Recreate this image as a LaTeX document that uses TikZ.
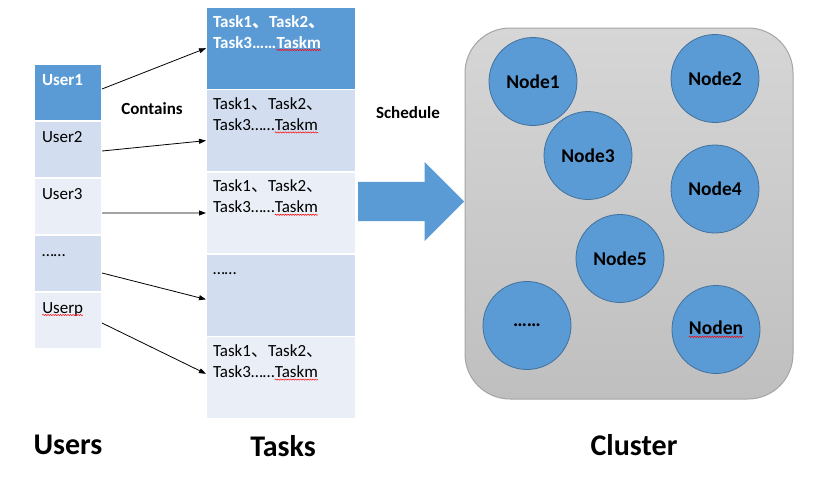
\documentclass[tikz,border=0pt]{standalone}
\usepackage{fontspec}
\setmainfont{Carlito}
\newfontfamily\cjk{Noto Sans CJK SC}
\usetikzlibrary{calc,positioning,arrows.meta,shapes.arrows,decorations.pathmorphing}
\definecolor{officeblue}{HTML}{5B9BD5}
\definecolor{officeline}{HTML}{41719C}
\definecolor{bandmid}{HTML}{D2DEEF}
\definecolor{bandlight}{HTML}{EAEFF7}
\definecolor{clustertop}{HTML}{D6D6D6}
\definecolor{clusterbot}{HTML}{BFBFBF}
\definecolor{clusterline}{HTML}{A5A5A5}
% red spell-check squiggle under a word
\newcommand\redwave[1]{\tikz[baseline=(rw.base)]{\node[shape=rectangle,inner sep=0pt,outer sep=0pt,minimum size=0pt,draw=none,fill=none,text width=,text height=,text depth=,align=none,anchor=center] (rw) {#1};
  \draw[red,line width=0.5pt,decorate,decoration={snake,amplitude=0.6pt,segment length=2.5pt}] ([yshift=-2pt]rw.base west) -- ([yshift=-2pt]rw.base east);}}
\newcommand\tasklist{Task1{\cjk 、}Task2{\cjk 、}\\Task3……\redwave{Taskm}}

\begin{document}
\begin{tikzpicture}[
  x=1pt,y=-1pt,
  user_cell/.style={rectangle,draw=white,line width=1.5pt,outer sep=0pt,anchor=north west,inner xsep=8pt,inner ysep=0pt,text width=52pt,text height=21pt,text depth=36pt,align=left,font=\fontsize{17}{21}\selectfont},
  task_cell/.style={rectangle,draw=white,line width=1.5pt,outer sep=0pt,anchor=north west,inner xsep=7pt,inner ysep=0pt,text width=136pt,text height=20pt,text depth=62.4pt,align=left,font=\fontsize{17}{21}\selectfont},
  head_cell/.style={fill=officeblue,text=white,font=\fontsize{17}{21}\selectfont\bfseries},
  cluster_node/.style={circle,minimum size=88pt,inner sep=0pt,fill=officeblue,draw=officeline,line width=0.8pt,font=\fontsize{19.5}{23}\selectfont\bfseries},
  small_lbl/.style={inner sep=0pt,font=\fontsize{17}{21}\selectfont\bfseries},
  title_lbl/.style={inner sep=0pt,font=\fontsize{30}{36}\selectfont\bfseries},
  link/.style={line width=0.8pt,-{Triangle[length=7pt,width=5pt]}}
  ]
  \useasboundingbox (0,0) rectangle (831,477);

%users
  \node (User_1) [user_cell,head_cell] at(34,64) {User1};
  \node (User_2) [user_cell,fill=bandmid] at(User_1.south west) {User2};
  \node (User_3) [user_cell,fill=bandlight] at(User_2.south west) {User3};
  \node (User_dots) [user_cell,fill=bandmid] at(User_3.south west) {……};
  \node (User_p) [user_cell,fill=bandlight] at(User_dots.south west) {\redwave{Userp}};

%tasks
  \node (Task_1) [task_cell,head_cell] at(206,7) {\tasklist};
  \node (Task_2) [task_cell,fill=bandmid] at(Task_1.south west) {\tasklist};
  \node (Task_3) [task_cell,fill=bandlight] at(Task_2.south west) {\tasklist};
  \node (Task_4) [task_cell,fill=bandmid] at(Task_3.south west) {……};
  \node (Task_5) [task_cell,fill=bandlight] at(Task_4.south west) {\tasklist};

  \draw [link] ($(User_1.east)+(0,-3.5)$) -- (Task_1.west);
  \draw [link] ($(User_2.east)+(0,1.5)$) -- ($(Task_2.west)+(0,10)$);
  \draw [link] ($(User_3.east)+(0,6.5)$) -- (Task_3.west);
  \draw [link] ($(User_dots.east)+(0,9.5)$) -- ($(Task_4.west)+(0,4)$);
  \draw [link] ($(User_p.east)+(0,2.5)$) -- ($(Task_5.west)+(0,-4)$);

  \node (Contains_lbl) [small_lbl] at(152,109) {Contains};
  \node (Schedule_lbl) [small_lbl] at(408,113) {Schedule};

%schedule arrow
  \node (Sched_arrow) [single arrow,fill=officeblue,draw=none,minimum height=106pt,inner xsep=0pt,inner ysep=19.5pt,single arrow head extend=20pt,anchor=tail] at(358,201.5) {};

%cluster
  \node (Cluster) [rectangle,rounded corners=45pt,minimum width=328pt,minimum height=371pt,top color=clustertop,bottom color=clusterbot,draw=clusterline,line width=1pt] at(629,213.5) {};
  \node (Node_1) [cluster_node] at(533,81.5) {Node1};
  \node (Node_2) [cluster_node] at(715,78.5) {Node2};
  \node (Node_3) [cluster_node] at(588,155.5) {Node3};
  \node (Node_4) [cluster_node] at(715,189) {Node4};
  \node (Node_5) [cluster_node] at(620,258.5) {Node5};
  \node (Node_dots) [cluster_node] at(527,325.5) {……};
  \node (Node_n) [cluster_node] at(716,329.5) {\redwave{Noden}};

%titles
  \node (Users_title) [title_lbl] at(68,445) {Users};
  \node (Tasks_title) [title_lbl] at(283,446) {Tasks};
  \node (Cluster_title) [title_lbl] at(634,445) {Cluster};
\end{tikzpicture}
\end{document}
